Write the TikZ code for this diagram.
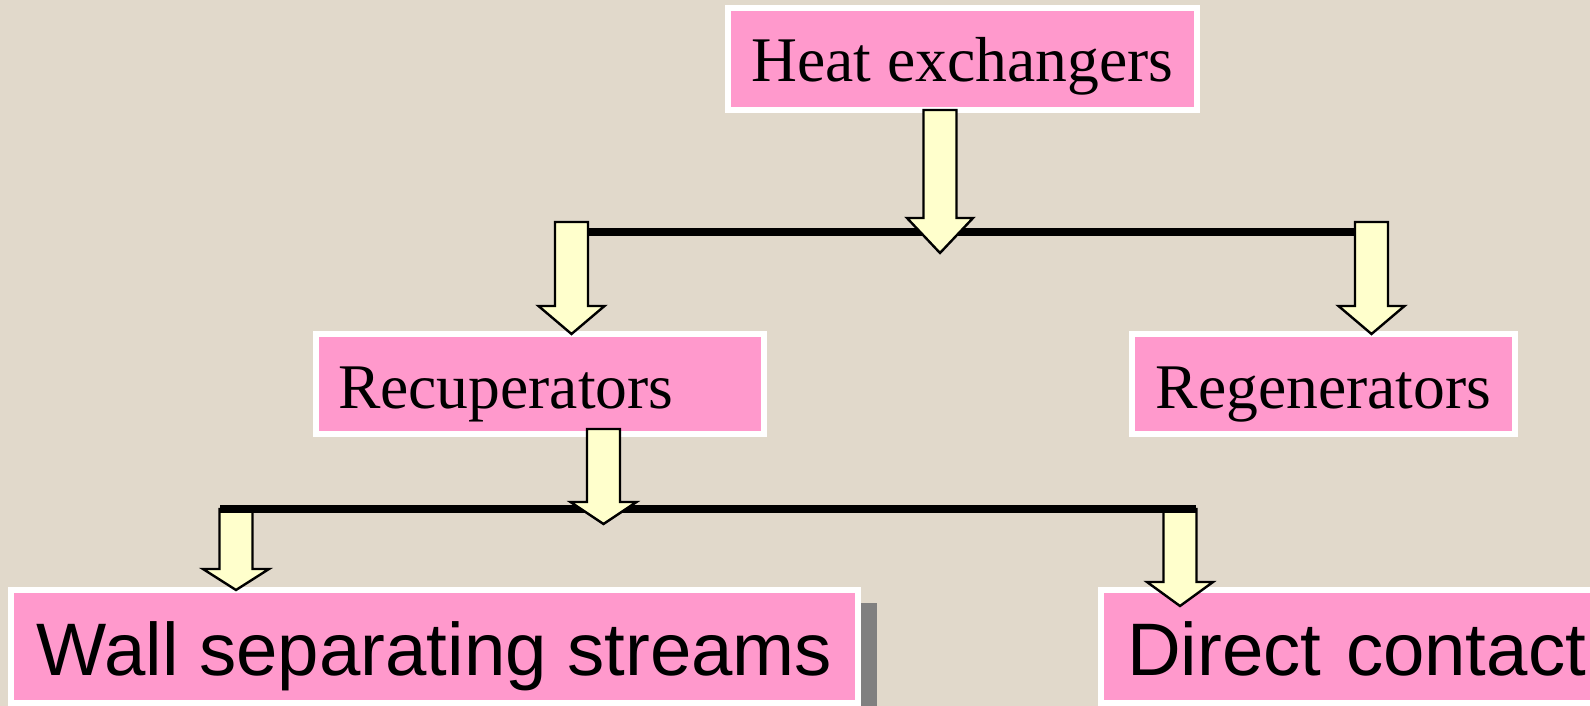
\documentclass[tikz,border=0pt]{standalone}
\usepackage{fontspec}
\setmainfont{Liberation Serif}
\newfontfamily\arialfont{Liberation Sans}
\usetikzlibrary{calc,shadows}
\definecolor{bgbeige}{HTML}{E1D9CB}
\definecolor{boxpink}{HTML}{FF99CC}
\definecolor{arrowyellow}{HTML}{FFFFCC}
\definecolor{shadowgray}{HTML}{808080}
% block arrow: #1 start (shaft top centre), #2 point giving the tip height, #3 head height
\newcommand\blockarrow[3]{%
  \draw[blockarr] let \p1=#1, \p2=#2 in
    ({\x1-16.5pt},\y1) -- ({\x1+16.5pt},\y1) -- ({\x1+16.5pt},{\y2+#3pt})
    -- ({\x1+33pt},{\y2+#3pt}) -- (\x1,\y2) -- ({\x1-33pt},{\y2+#3pt})
    -- ({\x1-16.5pt},{\y2+#3pt}) -- cycle;}
\begin{document}
\begin{tikzpicture}[x=1pt,y=-1pt,
  box/.style={fill=boxpink, draw=white, line width=6pt, anchor=north west,
    outer sep=0pt, inner ysep=0pt, inner xsep=0pt},
  serifbig/.style={font=\fontsize{63.6}{70}\selectfont},
  sansbig/.style={font=\arialfont\fontsize{74.4}{80}\selectfont},
  blockarr/.style={fill=arrowyellow, draw=black, line width=2.4pt, line join=miter},
  hline/.style={draw=black, line width=8pt}]
\clip (0,0) rectangle (1590,706);
\fill[bgbeige] (0,0) rectangle (1590,706);

% boxes
\node[box, serifbig, minimum width=469, text height=74, text depth=28] (heat) at (728,8) {Heat exchangers};
\node[box, serifbig, inner xsep=22, text width=404, align=left, text height=74, text depth=26] (recup) at (316,334) {Recuperators};
\node[box, serifbig, minimum width=383, text height=74, text depth=26] (regen) at (1132,334) {Regenerators};
\node[box, sansbig, minimum width=847, text height=85, text depth=28,
  general shadow={fill=shadowgray, shadow xshift=19pt, shadow yshift=-13pt}] (wall) at (11,590) {Wall separating streams};
\node[box, sansbig, inner xsep=26, text width=520, align=left, text height=85, text depth=28] (direct) at (1101,590) {Direct contact};

% junction points
\coordinate (upL) at (588,231.5);
\coordinate (upR) at (1355,231.5);
\coordinate (upTip) at (940,253);
\coordinate (loL) at (220,508.5);
\coordinate (loR) at (1196,508.5);
\coordinate (loTip) at (603.5,524);
\coordinate (a2s) at (571.5,222);
\coordinate (a3s) at (1371.5,222);
\coordinate (a5s) at (236,509);
\coordinate (a6s) at (1180,509);

% lower branch
\blockarrow{(a5s)}{(wall.north)}{21}
\blockarrow{(a6s)}{([yshift=-16pt]direct.north)}{24}
\draw[hline] (loL) -- (loR);

% upper branch
\blockarrow{(a2s)}{(recup.north)}{28}
\blockarrow{(a3s)}{(regen.north)}{28}
\draw[hline] (upL) -- (upR);

% feeding arrows
\blockarrow{([xshift=-22.5pt]heat.south)}{(upTip)}{35}
\blockarrow{([xshift=63.5pt,yshift=5pt]recup.south)}{(loTip)}{22}
\end{tikzpicture}
\end{document}
